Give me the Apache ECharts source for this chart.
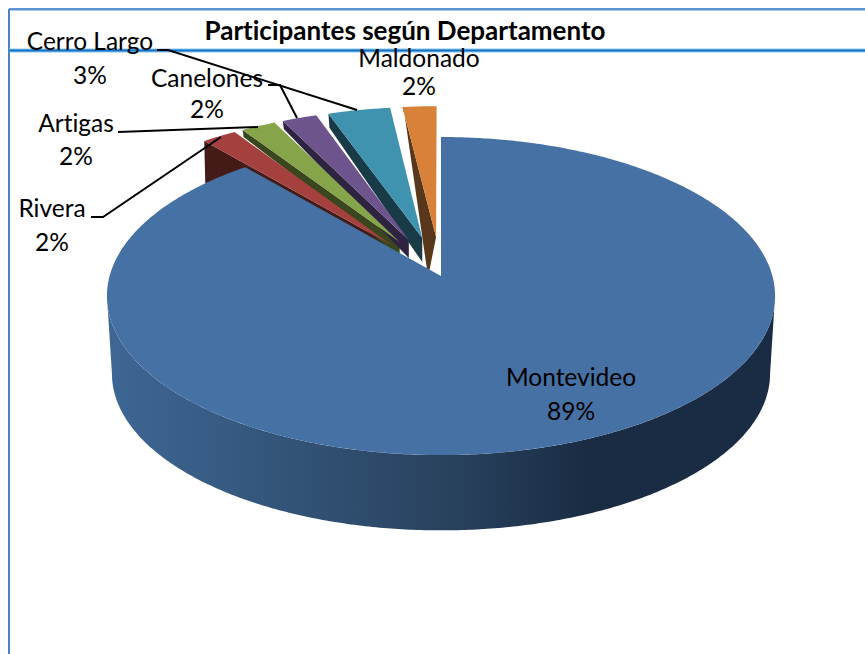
<!DOCTYPE html>
<html>
<head>
<meta charset="utf-8">
<style>html,body{margin:0;padding:0;background:#fff}#c{width:865px;height:654px}#c text{font-variant-ligatures:none !important;font-feature-settings:"liga" 0,"clig" 0 !important}</style>
<script src="https://cdn.jsdelivr.net/npm/echarts@6/dist/echarts.min.js"></script>
</head>
<body>
<div id="c"></div>
<script>
const categories = ['Montevideo', 'Rivera', 'Artigas', 'Canelones', 'Cerro Largo', 'Maldonado'];
const values = [88.75, 1.93, 1.93, 1.95, 3.49, 1.9];
const percentLabels = ['89%', '2%', '2%', '2%', '3%', '2%'];

const titleText = 'Participantes según Departamento';
const FONT = 'Lato, "Open Sans", sans-serif';

// layout of the perspective pie
const G = {
  cx: 441, apexY: 276, b: 331.4, a: 156.5, p: 0.126,
  bottomScale: 0.985, bottomApexY: 354, explode: 0.257
};
// styles per category
const topColors = ['#4671a5', '#a4403d', '#86a44a', '#6e548d', '#3f93ae', '#d88139'];
const wallColors = ['#1a2c44', '#451b18', '#3a471e', '#2e2340', '#193b48', '#59371a'];
const wallOuter = [0, 42, 7, 8, 14, 0];
const wallApex = [0, 40, 14, 18, 24, 40];
const wallApexDx = [0, 0, 0, 0, 0, -8];
const labelPos = [[571, 376, 410], [52, 207, 241], [76, 122, 155], [207, 77, 108], [90, 40, 74], [419, 57, 85]];
const leaders = [
  null,
  [[91, 217], [103, 217], [221, 137]],
  [[118, 132], [258, 127]],
  [[268, 85], [280, 85], [297, 118]],
  [[157, 50], [168, 50], [357, 110]],
  null
];

const total = values.reduce((s, v) => s + v, 0);
const deg = v => v / total * 2 * Math.PI;

function proj(u, v, bottom) {
  const k = bottom ? G.bottomScale : 1;
  const y0 = bottom ? G.bottomApexY : G.apexY;
  const d = 1 - G.p * v;
  return [G.cx + k * G.b * u / d, y0 + k * G.a * v / d];
}
function rimPts(a0, a1, ox, oy, bottom) {
  const n = Math.max(2, Math.ceil(Math.abs(a1 - a0) / 0.01));
  const out = [];
  for (let i = 0; i <= n; i++) {
    const t = a0 + (a1 - a0) * i / n;
    out.push(proj(ox + Math.sin(t), oy - Math.cos(t), bottom));
  }
  return out;
}

function renderItem(params, api) {
  const i = params.dataIndex;
  let start = 0;
  for (let k = 0; k < i; k++) start += deg(values[k]);
  const sweep = deg(api.value(1));
  const end = start + sweep;
  const children = [];
  const main = i === 0;
  const mid = (start + end) / 2;
  const ox = main ? 0 : G.explode * Math.sin(mid);
  const oy = main ? 0 : -G.explode * Math.cos(mid);
  const apex = proj(ox, oy, false);

  if (main) {
    // front wall between the two horizontal extremes of the rim
    const a0 = Math.PI / 2 + Math.asin(G.p);
    const a1 = 3 * Math.PI / 2 - Math.asin(G.p);
    const top = rimPts(a0, a1, 0, 0, false);
    const bot = rimPts(a1, a0, 0, 0, true);
    children.push({
      type: 'polygon', z2: 10,
      shape: { points: top.concat(bot) },
      style: {
        fill: new echarts.graphic.LinearGradient(1, 0, 0, 0, [
          { offset: 0, color: '#1a2c44' },
          { offset: 0.28, color: '#1a2c44' },
          { offset: 0.5, color: '#29435f' },
          { offset: 1, color: '#3e6795' }
        ])
      }
    });
  } else {
    const outer = proj(ox + Math.sin(start), oy - Math.cos(start), false);
    children.push({
      type: 'polygon', z2: 5,
      shape: { points: [outer, apex, [apex[0] + wallApexDx[i], apex[1] + wallApex[i]], [outer[0] + 1, outer[1] + wallOuter[i]]] },
      style: { fill: wallColors[i] }
    });
  }
  children.push({
    type: 'polygon', z2: main ? 11 : 6,
    shape: { points: [apex].concat(rimPts(start, end, ox, oy, false)) },
    style: { fill: topColors[i] }
  });

  const lp = labelPos[i];
  children.push({
    type: 'text', z2: 30,
    style: { x: lp[0], y: lp[1], text: categories[i], font: '24.5px ' + FONT, fill: '#000', align: 'center', verticalAlign: 'middle' }
  });
  children.push({
    type: 'text', z2: 30,
    style: { x: lp[0], y: lp[2], text: percentLabels[i], font: '24.5px ' + FONT, fill: '#000', align: 'center', verticalAlign: 'middle' }
  });
  if (leaders[i]) {
    children.push({
      type: 'polyline', z2: 25,
      shape: { points: leaders[i] },
      style: { stroke: '#000', lineWidth: 2, fill: null }
    });
  }
  return { type: 'group', children };
}

const chart = echarts.init(document.getElementById('c'), null, { renderer: 'svg' });
chart.setOption({
  animation: false,
  backgroundColor: '#fff',
  title: {
    text: titleText, left: 400, top: 12, textAlign: 'center',
    textStyle: { fontFamily: FONT, fontWeight: 'bold', fontSize: 26, color: '#000' }
  },
  graphic: [
    { type: 'line', z: 0, shape: { x1: 9, y1: 9.5, x2: 865, y2: 9.5 }, style: { stroke: '#a9c8ea', lineWidth: 3 } },
    { type: 'line', z: 0, shape: { x1: 9, y1: 9, x2: 865, y2: 9 }, style: { stroke: '#3f83cc', lineWidth: 1.5 } },
    { type: 'line', z: 0, shape: { x1: 9, y1: 9, x2: 9, y2: 654 }, style: { stroke: '#4f81bd', lineWidth: 2 } },
    { type: 'line', z: 0, shape: { x1: 9, y1: 50.5, x2: 865, y2: 50.5 }, style: { stroke: '#8fc3ee', lineWidth: 4 } },
    { type: 'line', z: 0, shape: { x1: 9, y1: 50.5, x2: 865, y2: 50.5 }, style: { stroke: '#0f75c8', lineWidth: 2 } }
  ],
  series: [{
    type: 'custom',
    coordinateSystem: 'none',
    renderItem,
    silent: true,
    z: 5,
    data: categories.map((c, i) => [c, values[i]])
  }]
});
</script>
</body>
</html>
